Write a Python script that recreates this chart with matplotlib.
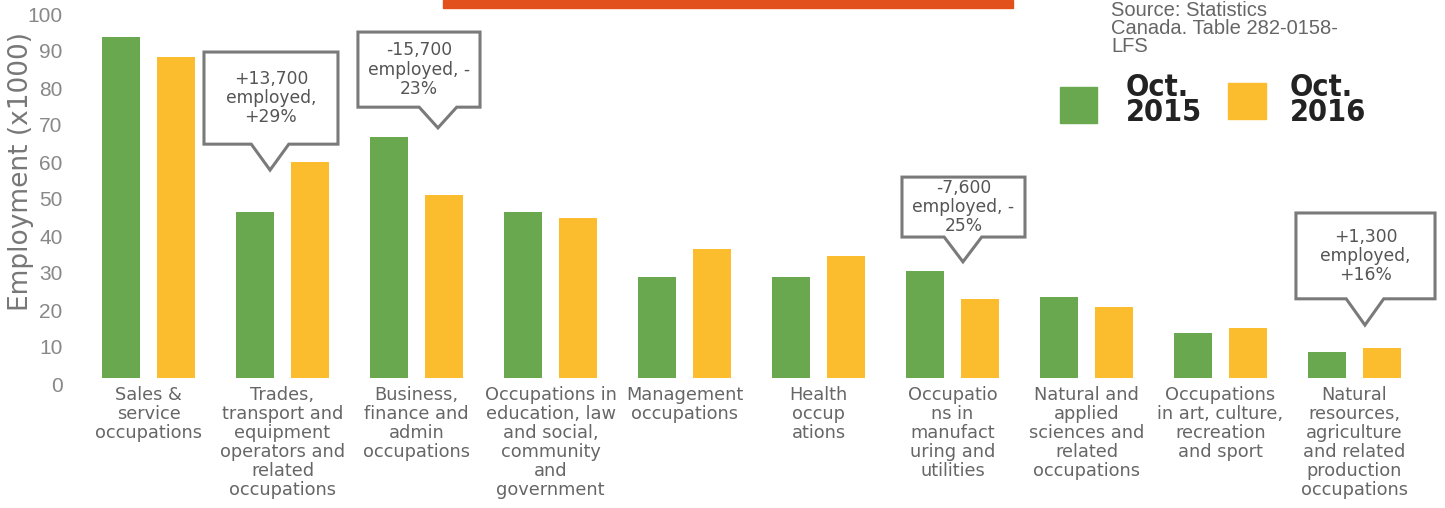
import matplotlib

matplotlib.use("Agg")
import matplotlib.pyplot as plt
import matplotlib.transforms as mtransforms
from matplotlib.patches import Polygon, Rectangle
import numpy as np

categories = [
    "Sales &\nservice\noccupations",
    "Trades,\ntransport and\nequipment\noperators and\nrelated\noccupations",
    "Business,\nfinance and\nadmin\noccupations",
    "Occupations in\neducation, law\nand social,\ncommunity\nand\ngovernment",
    "Management\noccupations",
    "Health\noccup\nations",
    "Occupatio\nns in\nmanufact\nuring and\nutilities",
    "Natural and\napplied\nsciences and\nrelated\noccupations",
    "Occupations\nin art, culture,\nrecreation\nand sport",
    "Natural\nresources,\nagriculture\nand related\nproduction\noccupations",
]
oct_2015 = [92.2, 45.0, 65.2, 45.0, 27.4, 27.4, 29.0, 22.0, 12.2, 6.9]
oct_2016 = [86.8, 58.5, 49.5, 43.2, 34.9, 33.0, 21.4, 19.3, 13.6, 8.2]
series_labels = ["Oct.\n2015", "Oct.\n2016"]
yticks = list(range(0, 101, 10))

# callout text and box layout (left, right, bottom, top, tip_x, tip_y) in data units
callout_text = [
    "+13,700\nemployed,\n+29%",
    "-15,700\nemployed, -\n23%",
    "-7,600\nemployed, -\n25%",
    "+1,300\nemployed,\n+16%",
]
callout_box = [
    (0.414, 1.414, 63.2, 88.1, 0.907, 56.2),
    (1.563, 2.474, 73.2, 93.5, 2.16, 67.6),
    (5.623, 6.541, 38.1, 54.3, 6.078, 31.4),
    (8.563, 9.601, 21.4, 44.6, 9.078, 14.3),
]

GREEN = "#6aa84f"
YELLOW = "#fbbd2e"
GREY = "#666666"

W, H = 1445, 508
fig = plt.figure(figsize=(W / 100, H / 100), dpi=100)
ax = fig.add_axes([54.7 / W, (H - 378) / H, 1380.2 / W, 370 / H])

x = np.arange(len(categories))
bw = 0.284
ax.bar(x - 0.204, oct_2015, width=bw, color=GREEN, zorder=2)
ax.bar(x + 0.204, oct_2016, width=bw, color=YELLOW, zorder=2)

ax.set_xlim(-0.7, 9.6)
ax.set_ylim(0, 100)
for s in ax.spines.values():
    s.set_visible(False)

ax.set_xticks(x)
ax.set_xticklabels(categories, fontsize=12.8, color=GREY, linespacing=1.07,
                   fontfamily="DejaVu Sans", va="top")
ax.tick_params(axis="x", length=0, pad=6)

ax.set_yticks(yticks)
ax.set_yticklabels([str(t) for t in yticks], fontsize=15, color="#888888",
                   fontfamily="Liberation Sans")
ax.tick_params(axis="y", length=0, pad=0)
shift = mtransforms.ScaledTranslation(8 / 100, -6 / 100, fig.dpi_scale_trans)
for lbl in ax.get_yticklabels():
    lbl.set_transform(lbl.get_transform() + shift)

fig.text(21 / W, 1 - 171 / H, "Employment (x1000)", rotation=90, ha="center",
         va="center", fontsize=19, color="#777777", fontfamily="DejaVu Sans")

# callouts
hw = 0.14
for txt, (l, r, b, t, tx, ty) in zip(callout_text, callout_box):
    pts = [(l, t), (r, t), (r, b), (tx + hw, b), (tx, ty), (tx - hw, b), (l, b)]
    ax.add_patch(Polygon(pts, closed=True, facecolor="white", edgecolor="#7a7a7a",
                         linewidth=2.2, zorder=5, clip_on=False))
    ax.text((l + r) / 2, (b + t) / 2, txt, ha="center", va="center", fontsize=12.3,
            color="#555555", linespacing=1.1, zorder=6, fontfamily="DejaVu Sans")

# top banner (cropped)
fig.patches.append(Rectangle((443 / W, 1 - 8 / H), 570 / W, 8 / H,
                             transform=fig.transFigure, color="#e2511c"))

# source note
fig.text(1111 / W, 1 - 1 / H, "Source: Statistics\nCanada. Table 282-0158-\nLFS",
         ha="left", va="top", fontsize=14.5, color="#666666", linespacing=0.92,
         fontfamily="Liberation Sans")

# legend
for (x0, y0, x1, y1), col, lab, tx0 in [
    ((1060, 87, 1097, 123), GREEN, series_labels[0], 1126),
    ((1228, 83, 1266, 119), YELLOW, series_labels[1], 1290),
]:
    fig.patches.append(Rectangle((x0 / W, 1 - y1 / H), (x1 - x0) / W, (y1 - y0) / H,
                                 transform=fig.transFigure, color=col))
    fig.text(tx0 / W, 1 - 100 / H, lab, ha="left", va="center", fontsize=22,
             color="#222222", linespacing=0.82, fontweight="bold",
             family=["Liberation Sans Narrow", "DejaVu Sans"], fontstretch="condensed")

fig.savefig("out.png", dpi=100)
